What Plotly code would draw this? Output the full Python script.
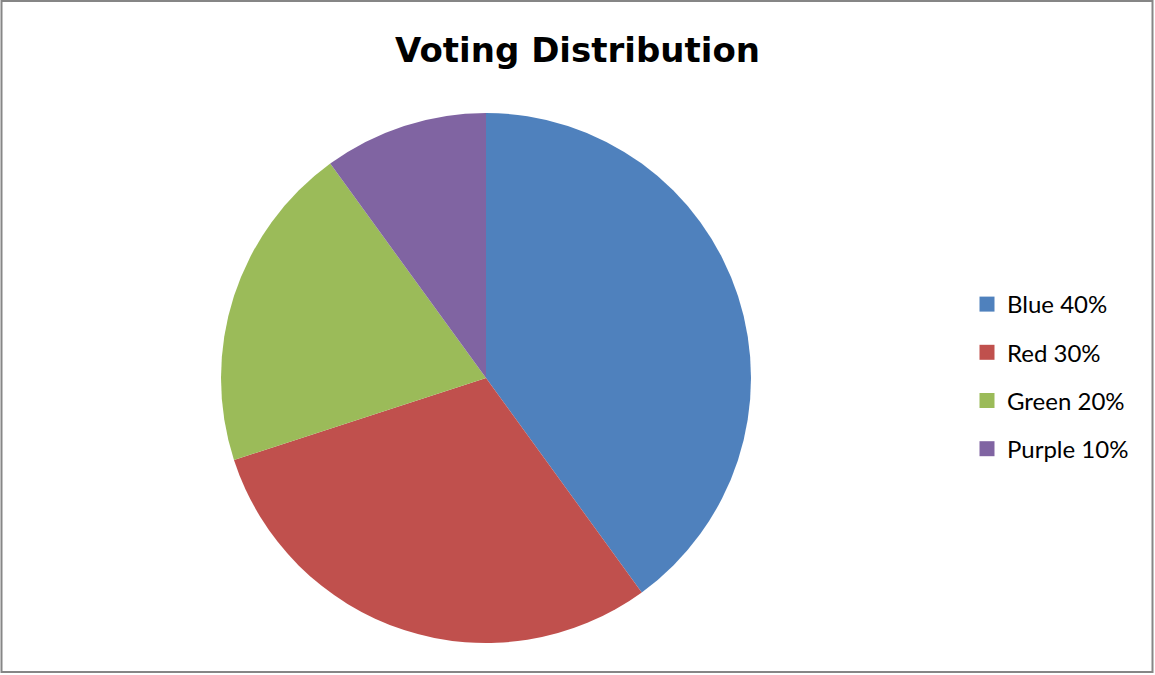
import plotly.graph_objects as go

labels = ["Blue 40%", "Red 30%", "Green 20%", "Purple 10%"]
values = [40, 30, 20, 10]
colors = ["#4F81BD", "#C0504D", "#9BBB59", "#8064A2"]

W, H = 1155, 675
cx, cy, r = 486, 378, 265

fig = go.Figure()
fig.add_trace(go.Pie(
    labels=labels, values=values, sort=False, direction="clockwise", rotation=0,
    marker=dict(colors=colors, line=dict(width=0)),
    textinfo="none", hoverinfo="label+percent", showlegend=False,
    domain=dict(x=[(cx - r) / W, (cx + r) / W], y=[(H - cy - r) / H, (H - cy + r) / H]),
))
for lab, col in zip(labels, colors):
    fig.add_trace(go.Scatter(
        x=[None], y=[None], mode="markers", name=lab, legendgroup=lab,
        marker=dict(symbol="square", size=15, color=col),
    ))

fig.update_layout(
    width=W, height=H,
    margin=dict(l=0, r=0, t=0, b=0),
    paper_bgcolor="white", plot_bgcolor="white",
    xaxis=dict(visible=False), yaxis=dict(visible=False),
    title=dict(text="<b>Voting Distribution</b>", x=0.5, xanchor="center",
               y=1 - 50 / H, yanchor="middle",
               font=dict(family="DejaVu Sans", size=34, color="black")),
    legend=dict(x=967 / W, xanchor="left", y=1 - 282 / H, yanchor="top",
                font=dict(family="Lato", size=24, color="black"),
                tracegroupgap=14, bgcolor="rgba(0,0,0,0)"),
    shapes=[dict(type="rect", xref="paper", yref="paper",
                 x0=1.5 / W, x1=1152.5 / W, y0=1 - 672 / H, y1=1 - 1 / H,
                 line=dict(color="#868686", width=2))],
)
fig.write_html("out.html", config={"displayModeBar": False},
               post_script="document.body.style.margin='0px';")
